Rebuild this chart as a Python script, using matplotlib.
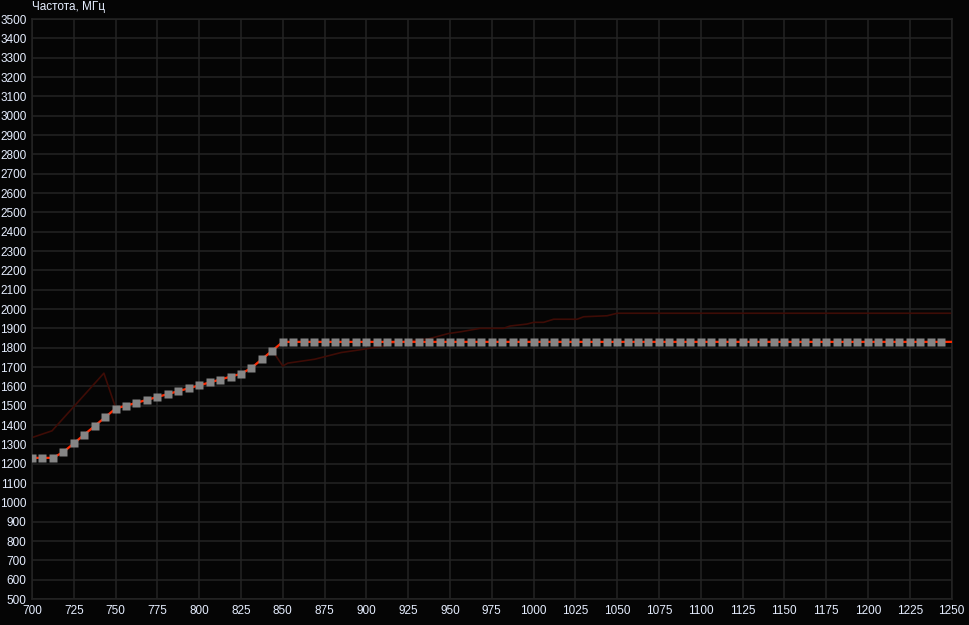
"""V/F curve chart in the style of a GPU overclocking utility."""

import numpy as np
import matplotlib.pyplot as plt

# Voltage points of the curve, mV (step 6.25)
volts = np.arange(700, 1250.01, 6.25)

# Frequencies of the edited curve, MHz (first 25 points, then flat)
curve_start = [1230, 1230, 1230, 1260, 1305, 1350, 1395, 1440, 1485, 1500,
               1515, 1530, 1545, 1560, 1575, 1590, 1605, 1620, 1635, 1650,
               1665, 1695, 1740, 1785, 1830]
curve_freq = curve_start + [1830] * (len(volts) - len(curve_start))

# Default (original) curve, dark red
base_volts = [700, 712, 743, 750, 756.25, 762.5, 768.75, 775, 781.25, 787.5,
              793.75, 800, 806.25, 812.5, 818.75, 825, 831.25, 837.5, 843.75,
              850, 853, 869, 885, 897, 911, 915, 925, 937, 949, 957, 968,
              982, 986, 996, 1000, 1006, 1012, 1026, 1030, 1044, 1050, 1250]
base_freq = [1335, 1370, 1668, 1490, 1500, 1515, 1530, 1545, 1560, 1575,
             1590, 1605, 1620, 1635, 1650, 1665, 1695, 1740, 1785,
             1705, 1720, 1740, 1775, 1790, 1810, 1822, 1835, 1845, 1873,
             1883, 1900, 1900, 1912, 1922, 1931, 1931, 1947, 1947, 1960,
             1965, 1978, 1978]

x_ticks = list(range(700, 1251, 25))
y_ticks = list(range(500, 3501, 100))

label_color = "#e6eeff"

fig = plt.figure(figsize=(9.69, 6.25), dpi=100, facecolor="#050505")
ax = fig.add_axes([32 / 969, 26 / 625, 919.5 / 969, 580 / 625])
ax.set_facecolor("#050505")

ax.plot(base_volts, base_freq, color="#3e0c06", lw=1.2, zorder=2)
ax.plot(volts, curve_freq, color="#ff2a00", lw=1.6, zorder=3)
ax.plot(volts[:-1], curve_freq[:-1], ls="none", marker="s", ms=6,
        mfc="#858585", mec="none", zorder=4)

ax.set_xlim(700, 1250)
ax.set_ylim(500, 3500)
ax.set_xticks(x_ticks)
ax.set_yticks(y_ticks)
ax.grid(True, color="#242424", lw=1.1)
ax.set_axisbelow(True)
for side in ax.spines.values():
    side.set_color("#242424")
    side.set_linewidth(1.1)
ax.tick_params(length=0, colors=label_color, labelsize=8.5, pad=4)
for lbl in ax.get_xticklabels() + ax.get_yticklabels():
    lbl.set_fontfamily("Liberation Sans")

fig.text(32 / 969, 0.999, "Частота, МГц", color=label_color, fontsize=8.5,
         family="Liberation Sans", ha="left", va="top")

fig.savefig("out.png", dpi=100, facecolor=fig.get_facecolor())
